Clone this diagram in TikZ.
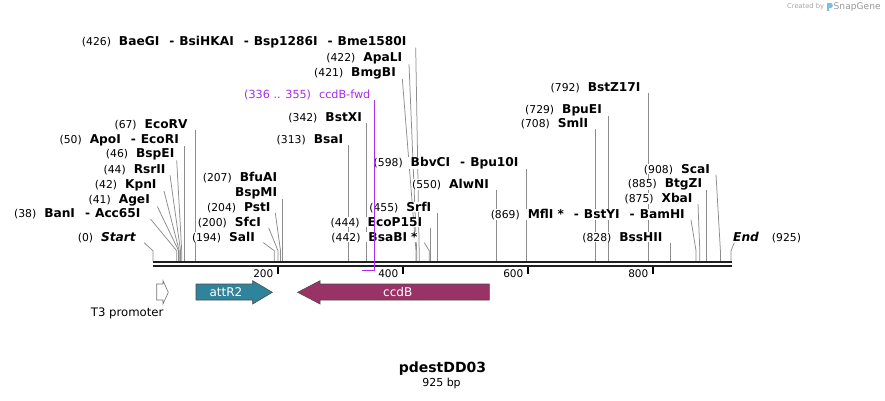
\documentclass[tikz,border=0pt]{standalone}
\usepackage{fontspec}
\setmainfont{DejaVu Sans}
\usetikzlibrary{calc}
\pgfdeclarelayer{bg}
\pgfsetlayers{bg,main}
\definecolor{sitegray}{RGB}{140,140,140}
\definecolor{primerpurple}{RGB}{165,45,235}
\definecolor{attteal}{RGB}{47,131,155}
\definecolor{ccdbred}{RGB}{153,51,102}
\definecolor{sglogo}{RGB}{120,190,230}
\newcommand\sgnum[1]{{\fontsize{10.8}{13}\selectfont\mdseries\upshape #1}}
\newcommand\sgname[1]{{\fontsize{12.2}{14}\selectfont\bfseries #1}}
\newcommand\sgsep{\hspace{10pt}-\hspace{5pt}}
\newcommand\sggap{\hspace{8pt}}
\tikzset{
  lbl/.style={inner sep=0pt, anchor=base east, fill=white},
  cut/.style={draw=sitegray, line width=0.75pt},
  bb/.style={draw=black!88, line width=2.3pt},
  tickmark/.style={draw=black, line width=1.6pt},
  ticklbl/.style={inner sep=0pt, anchor=east, font=\fontsize{10.5}{12}\selectfont},
  feat/.style={draw=black!70, line width=0.6pt},
  featlbl/.style={inner sep=0pt, text=white, font=\fontsize{12}{14}\selectfont},
  primer/.style={draw=primerpurple, line width=1.2pt},
}
\begin{document}
\begin{tikzpicture}[x=1pt,y=-1pt]
\useasboundingbox (0,0) rectangle (885,400);
\begin{pgfonlayer}{bg}
\fill[white] (0,0) rectangle (885,400);
\end{pgfonlayer}

% ---------- backbone ----------
\coordinate (bbL) at (152.7,262.2);
\coordinate (bbR) at (732,262.2);
\draw[bb] (bbL) -- (bbR);
\draw[bb] ($(bbL)+(0,4)$) -- ($(bbR)+(0,4)$);

% ticks
\foreach \t/\x in {200/277.7, 400/402.7, 600/527.7, 800/652.7}{
  \coordinate (tk\t) at (\x,267.3);
  \draw[tickmark] (tk\t) -- ++(0,6.5);
  \node[ticklbl] (tl\t) at ($(tk\t)+(-4.2,6.8)$) {\t};
}

% ---------- site coordinates ----------
\foreach \n/\x in {0/153.0, 38/176.7, 41/178.6, 42/179.2, 44/180.5, 46/181.7, 50/184.2, 67/194.9,
  194/274.2, 200/278.0, 204/280.5, 207/282.4, 313/348.6, 342/366.7,
  421/416.1, 422/416.7, 426/419.2, 442/429.2, 444/430.5, 455/437.3,
  550/496.7, 598/526.7, 708/595.4, 729/608.6, 792/647.9, 828/670.4,
  869/696.0, 875/699.8, 885/706.0, 908/720.4, 925/731.0}{
  \coordinate (s\n) at (\x,261.2);
}

% ---------- labels: left group ----------
\node[lbl] (l0)  at (136,241)   {\sgnum{(0)}\sggap\sgname{\itshape Start}};
\node[lbl] (l38) at (140.7,217.6) {\sgnum{(38)}\sggap\sgname{BanI\sgsep Acc65I}};
\node[lbl] (l41) at (150,203.6) {\sgnum{(41)}\sggap\sgname{AgeI}};
\node[lbl] (l42) at (156.7,188.3) {\sgnum{(42)}\sggap\sgname{KpnI}};
\node[lbl] (l44) at (165.7,173.6) {\sgnum{(44)}\sggap\sgname{RsrII}};
\node[lbl] (l46) at (174.5,157.6) {\sgnum{(46)}\sggap\sgname{BspEI}};
\node[lbl] (l50) at (179,143.6) {\sgnum{(50)}\sggap\sgname{ApoI\sgsep EcoRI}};
\node[lbl] (l67) at (187.7,128.3) {\sgnum{(67)}\sggap\sgname{EcoRV}};

\node[lbl] (l194) at (255,241) {\sgnum{(194)}\sggap\sgname{SalI}};
\node[lbl] (l200) at (261,226.3) {\sgnum{(200)}\sggap\sgname{SfcI}};
\node[lbl] (l204) at (270.7,211.3) {\sgnum{(204)}\sggap\sgname{PstI}};
\node[lbl] (lbsp) at (277.3,196) {\sgname{BspMI}};
\node[lbl] (l207) at (277.3,181) {\sgnum{(207)}\sggap\sgname{BfuAI}};

% ---------- labels: middle ----------
\node[lbl] (l313) at (343.3,143.3) {\sgnum{(313)}\sggap\sgname{BsaI}};
\node[lbl] (l342) at (362,121) {\sgnum{(342)}\sggap\sgname{BstXI}};
\node[lbl, text=primerpurple, font=\fontsize{11.2}{13}\selectfont] (lfwd) at (370.5,98.3) {(336 .. 355)\hspace{8pt}ccdB-fwd};
\node[lbl] (l598) at (518.7,166) {\sgnum{(598)}\sggap\sgname{BbvCI\sgsep Bpu10I}};
\node[lbl] (l550) at (489,188.3) {\sgnum{(550)}\sggap\sgname{AlwNI}};
\node[lbl] (l455) at (431.3,211) {\sgnum{(455)}\sggap\sgname{SrfI}};
\node[lbl] (l444) at (422.3,226) {\sgnum{(444)}\sggap\sgname{EcoP15I}};
\node[lbl] (l442) at (417.7,241) {\sgnum{(442)}\sggap\sgname{BsaBI\hspace{4pt}*}};

% ---------- labels: top ----------
\node[lbl] (l426) at (406.7,45) {\sgnum{(426)}\sggap\sgname{BaeGI\sgsep BsiHKAI\sgsep Bsp1286I\sgsep Bme1580I}};
\node[lbl] (l422) at (402.3,61.6) {\sgnum{(422)}\sggap\sgname{ApaLI}};
\node[lbl] (l421) at (396,76) {\sgnum{(421)}\sggap\sgname{BmgBI}};

% ---------- labels: right ----------
\node[lbl] (l792) at (640.7,91) {\sgnum{(792)}\sggap\sgname{BstZ17I}};
\node[lbl] (l729) at (602,113.3) {\sgnum{(729)}\sggap\sgname{BpuEI}};
\node[lbl] (l708) at (588.3,127.6) {\sgnum{(708)}\sggap\sgname{SmlI}};
\node[lbl] (l908) at (710,173) {\sgnum{(908)}\sggap\sgname{ScaI}};
\node[lbl] (l885) at (702.3,187.6) {\sgnum{(885)}\sggap\sgname{BtgZI}};
\node[lbl] (l875) at (692.7,202.6) {\sgnum{(875)}\sggap\sgname{XbaI}};
\node[lbl] (l869) at (685,218.3) {\sgnum{(869)}\sggap\sgname{MflI\hspace{4pt}*\sgsep BstYI\sgsep BamHI}};
\node[lbl] (l828) at (662.7,241) {\sgnum{(828)}\sggap\sgname{BssHII}};
\node[inner sep=0pt, anchor=base west, fill=white] (lEnd) at (733,241) {\sgname{\itshape End}\hspace{13pt}\sgnum{(925)}};

% ---------- cut-site connectors (behind labels) ----------
\begin{pgfonlayer}{bg}
\foreach \n in {50,67,313,342,550,598,455,444,708,729,792,885,828}{
  \draw[cut] (l\n.south east -| s\n) -- (s\n);
}
\draw[cut] (lbsp.south east -| s207) -- (s207);
\draw[cut] ([xshift=8pt]l0.south east) -- ($(s0)+(0,-10.5)$) -- (s0);
\draw[cut] ([xshift=10pt]l38.south east) -- ($(s38)+(0,-10.5)$) -- (s38);
\draw[cut] ([xshift=7.3pt]l41.south east) -- ($(s41)+(0,-10.5)$) -- (s41);
\draw[cut] ([xshift=7.3pt]l42.south east) -- ($(s42)+(0,-10.5)$) -- (s42);
\draw[cut] ([xshift=4.3pt]l44.south east) -- ($(s44)+(0,-10.5)$) -- (s44);
\draw[cut] ([xshift=2.2pt]l46.south east) -- ($(s46)+(0,-10.5)$) -- (s46);
\draw[cut] ([xshift=8.3pt]l194.south east) -- ($(s194)+(0,-10.5)$) -- (s194);
\draw[cut] ([xshift=7.7pt]l200.south east) -- ($(s200)+(0,-10.5)$) -- (s200);
\draw[cut] ([xshift=4.6pt]l204.south east) -- ($(s204)+(0,-10.5)$) -- (s204);
\draw[cut] ([xshift=6.6pt]l442.south east) -- ($(s442)+(0,-10.5)$) -- (s442);
\draw[cut] ([xshift=9pt]l426.south east) -- ($(s426)+(0,-9)$) -- (s426);
\draw[cut] ([xshift=6.7pt]l422.south east) -- ($(s422)+(0,-9)$) -- (s422);
\draw[cut] ([xshift=6.3pt]l421.south east) -- ($(s421)+(0,-9)$) -- (s421);
\draw[cut] ([xshift=6pt]l908.south east) -- ($(s908)+(0,-10.5)$) -- (s908);
\draw[cut] ([xshift=5.3pt]l875.south east) -- ($(s875)+(0,-10.5)$) -- (s875);
\draw[cut] ([xshift=6pt]l869.south east) -- ($(s869)+(0,-10.5)$) -- (s869);
\draw[cut] ([xshift=1.3pt]lEnd.south west) -- ($(s925)+(0,-10.5)$) -- (s925);
\end{pgfonlayer}

% ---------- primer ----------
\coordinate (pr1) at (374.3,270.7);
\coordinate (pr0) at (361.7,270.7);
\draw[primer] (lfwd.south east -| pr1) -- (pr1) -- (pr0);

% ---------- features ----------
\path[feat, fill=white, draw=black!55] (156.7,284) -- (163,284) -- (163,280.7) -- (168.3,292.3)
  -- (163,304) -- (163,300) -- (156.7,300) -- cycle;
\node[inner sep=0pt, font=\fontsize{11.7}{14}\selectfont] (t3) at (127.2,313) {T3 promoter};

\path[feat, fill=attteal] (196,284) -- (252.7,284) -- (252.7,280.7) -- (272.3,292.3)
  -- (252.7,304) -- (252.7,300) -- (196,300) -- cycle;
\node[featlbl] (attr2) at (226,292) {attR2};

\path[feat, fill=ccdbred] (489.3,284) -- (320,284) -- (320,280.7) -- (297.7,292.3)
  -- (320,304) -- (320,300) -- (489.3,300) -- cycle;
\node[featlbl] (ccdb) at (397.7,292) {ccdB};

% ---------- title ----------
\node[inner sep=0pt, font=\fontsize{14}{16}\selectfont\bfseries] (title) at (442.5,369) {pdestDD03};
\node[inner sep=0pt, font=\fontsize{11}{13}\selectfont] (len) at (441.5,383.5) {925 bp};

% ---------- credit ----------
\node[inner sep=0pt, anchor=west, text=black!35, font=\fontsize{6.7}{8}\selectfont] (cb) at (787,7) {Created by};
\fill[sglogo] (827,3) rectangle (829,11);
\fill[sglogo, rounded corners=1.5pt] (827,3) rectangle (832.5,8);
\node[inner sep=0pt, anchor=west, text=black!40, font=\fontsize{9.1}{11}\selectfont] (sg) at (833.5,7) {SnapGene};
\end{tikzpicture}
\end{document}
